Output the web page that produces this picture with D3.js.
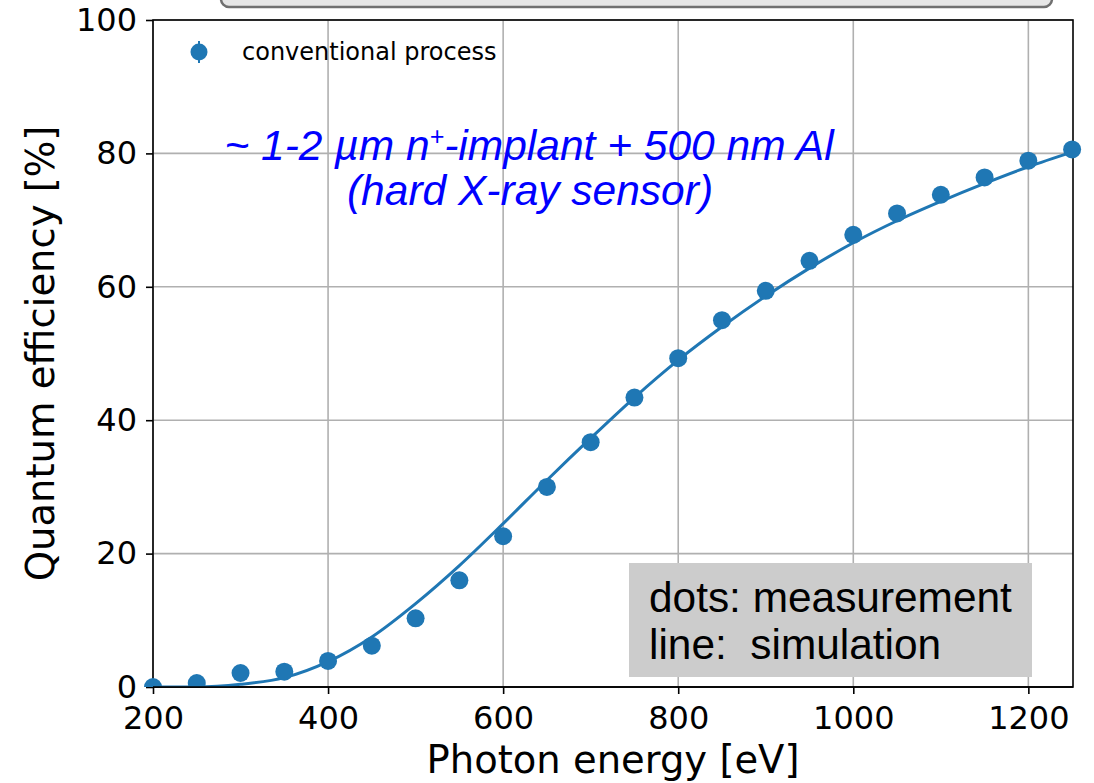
<!DOCTYPE html>
<html>
<head>
<meta charset="utf-8">
<script src="https://cdn.jsdelivr.net/npm/d3@7"></script>
<style>
  body { margin: 0; background: #fff; }
  svg { display: block; }
</style>
</head>
<body>
<svg id="chart" width="1094" height="783"></svg>
<script>
// measured points (dots)
var energies = [200, 250, 300, 350, 400, 450, 500, 550, 600, 650, 700, 750,
                800, 850, 900, 950, 1000, 1050, 1100, 1150, 1200, 1250];
var measured = [0.0, 0.6, 2.1, 2.3, 3.9, 6.2, 10.3, 16.0, 22.6, 30.0, 36.7, 43.4,
                49.3, 55.0, 59.4, 63.9, 67.8, 71.0, 73.8, 76.4, 78.9, 80.6];
// simulation curve
var simEnergies = [200, 250, 300, 350, 400, 450, 500, 550, 600, 650, 700, 750,
                   800, 850, 900, 950, 1000, 1050, 1100, 1150, 1200, 1250];
var simulated = [0.0, 0.0, 0.4, 1.4, 3.8, 7.5, 12.5, 18.2, 24.5, 31.0, 37.3, 43.4,
                 49.0, 54.0, 58.6, 62.8, 66.6, 69.9, 72.8, 75.5, 78.0, 80.2];
var xTicks = [200, 400, 600, 800, 1000, 1200];
var yTicks = [0, 20, 40, 60, 80, 100];

var seriesLabel = 'conventional process';
var noteLines = ['dots: measurement', 'line:  simulation'];

var svg = d3.select('#chart'),
    margin = {left: 153, right: 21, top: 20, bottom: 96},
    width = 1094 - margin.left - margin.right,
    height = 783 - margin.top - margin.bottom,
    blue = '#1f77b4',
    tickFont = 'DejaVu Sans, sans-serif';

// cut-off title box at the very top
svg.append('rect')
    .attr('x', 221).attr('y', -40)
    .attr('width', 831).attr('height', 47)
    .attr('rx', 8)
    .attr('fill', '#e6e6e6')
    .attr('stroke', '#707070')
    .attr('stroke-width', 2.5);

var x = d3.scaleLinear().domain([200, 1251]).range([0, width]),
    y = d3.scaleLinear().domain([0, 100]).range([height, 0]);

var g = svg.append('g')
    .attr('transform', 'translate(' + margin.left + ',' + margin.top + ')');

// grid
g.append('g').selectAll('line').data(xTicks).enter().append('line')
    .attr('x1', function(d) { return x(d); }).attr('x2', function(d) { return x(d); })
    .attr('y1', 0).attr('y2', height)
    .attr('stroke', '#b0b0b0').attr('stroke-width', 1.6);
g.append('g').selectAll('line').data(yTicks).enter().append('line')
    .attr('y1', function(d) { return y(d); }).attr('y2', function(d) { return y(d); })
    .attr('x1', 0).attr('x2', width)
    .attr('stroke', '#b0b0b0').attr('stroke-width', 1.6);

// axes
var xAxis = g.append('g')
    .attr('transform', 'translate(0,' + height + ')')
    .call(d3.axisBottom(x).tickValues(xTicks).tickSize(7).tickPadding(5).tickFormat(d3.format('d')));
var yAxis = g.append('g')
    .call(d3.axisLeft(y).tickValues(yTicks).tickSize(7).tickPadding(9).tickFormat(d3.format('d')));
[xAxis, yAxis].forEach(function(ax) {
    ax.select('.domain').remove();
    ax.selectAll('line').attr('stroke', '#000').attr('stroke-width', 1.6);
    ax.selectAll('text')
        .attr('fill', '#000')
        .style('font-family', tickFont)
        .style('font-size', '32px');
});
xAxis.selectAll('text').attr('y', 42).attr('dy', null);

// spines
g.append('rect')
    .attr('width', width).attr('height', height)
    .attr('fill', 'none').attr('stroke', '#000').attr('stroke-width', 1.6);

// clip for data
svg.append('defs').append('clipPath').attr('id', 'plotclip')
    .append('rect').attr('x', -12).attr('y', -12).attr('width', width + 24).attr('height', height + 12);

var data = g.append('g').attr('clip-path', 'url(#plotclip)');

// simulation line
var line = d3.line()
    .x(function(d, i) { return x(simEnergies[i]); })
    .y(function(d) { return y(d); })
    .curve(d3.curveMonotoneX);
data.append('path')
    .datum(simulated)
    .attr('d', line)
    .attr('fill', 'none')
    .attr('stroke', blue)
    .attr('stroke-width', 3);

// measurement dots
data.selectAll('circle').data(measured).enter().append('circle')
    .attr('cx', function(d, i) { return x(energies[i]); })
    .attr('cy', function(d) { return y(d); })
    .attr('r', 9)
    .attr('fill', blue);

// re-draw axis line at bottom on top of clipped dots
g.append('line')
    .attr('x1', 0).attr('x2', width).attr('y1', height).attr('y2', height)
    .attr('stroke', '#000').attr('stroke-width', 1.6);

// legend
var leg = g.append('g').attr('transform', 'translate(46,32)');
leg.append('line').attr('x1', 0).attr('x2', 0).attr('y1', -11).attr('y2', 11)
    .attr('stroke', blue).attr('stroke-width', 2);
leg.append('circle').attr('r', 8.5).attr('fill', blue);
leg.append('text')
    .attr('x', 43).attr('y', 8)
    .style('font-family', tickFont)
    .style('font-size', '24px')
    .attr('fill', '#000')
    .text(seriesLabel);

// annotation in blue
var note = g.append('text')
    .attr('text-anchor', 'middle')
    .attr('fill', '#0000ff')
    .style('font-family', 'Liberation Sans, Arial, sans-serif')
    .style('font-style', 'italic')
    .style('font-size', '42.5px');
var l1 = note.append('tspan').attr('x', 376).attr('y', 140);
l1.append('tspan').text('~ 1-2 \u00b5m n');
l1.append('tspan').attr('dy', -15).style('font-size', '25px').text('+');
l1.append('tspan').attr('dy', 15).text('-implant + 500 nm Al');
note.append('tspan').attr('x', 377).attr('y', 185).text('(hard X-ray sensor)');

// grey note box
var box = g.append('g').attr('transform', 'translate(476,543)');
box.append('rect').attr('width', 403).attr('height', 114).attr('fill', '#cccccc');
box.selectAll('text').data(noteLines).enter().append('text')
    .attr('x', 20)
    .attr('y', function(d, i) { return 49 + i * 47; })
    .attr('fill', '#000')
    .style('font-family', 'Liberation Sans, Arial, sans-serif')
    .style('font-size', '42.4px')
    .style('white-space', 'pre')
    .text(function(d) { return d; });

// axis labels
svg.append('text')
    .attr('x', margin.left + width / 2).attr('y', 773)
    .attr('text-anchor', 'middle')
    .style('font-family', tickFont).style('font-size', '38.5px')
    .text('Photon energy [eV]');
svg.append('text')
    .attr('transform', 'translate(54,' + (margin.top + height / 2) + ') rotate(-90)')
    .attr('text-anchor', 'middle')
    .style('font-family', tickFont).style('font-size', '38.5px')
    .text('Quantum efficiency [%]');
</script>
</body>
</html>
